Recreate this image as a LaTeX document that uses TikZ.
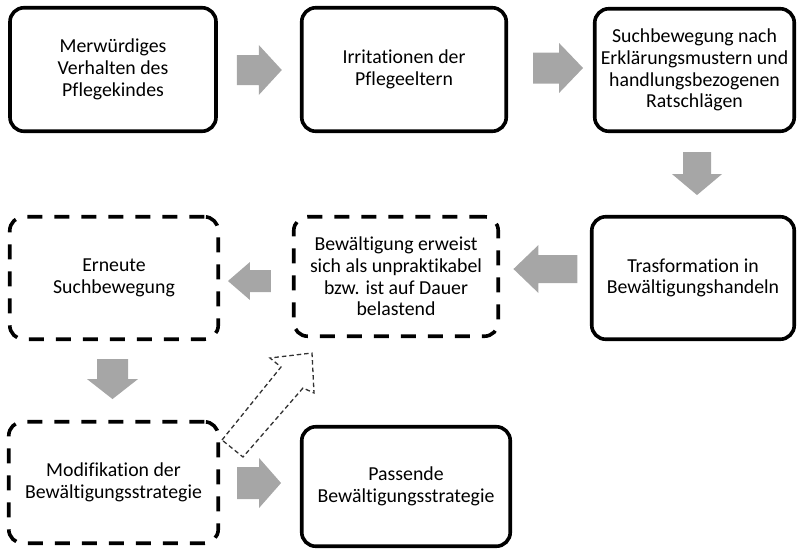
\documentclass[tikz,border=0pt]{standalone}
\usepackage{fontspec}
\setmainfont{Carlito}[Ligatures=NoCommon]
\usetikzlibrary{calc}
\definecolor{arrowgray}{RGB}{166,166,166}
\definecolor{hollowgray}{RGB}{50,50,50}
\begin{document}
\begin{tikzpicture}[x=1pt,y=-1pt,
  box/.style={draw=black, line width=3.6pt, rounded corners=14pt, align=center,
    inner sep=0pt, text=black, font=\fontsize{19.8}{21.7}\selectfont},
  solidbox/.style={box},
  dashbox/.style={box, dash pattern=on 15pt off 12pt},
  pics/barrow/.style n args={4}{code={
    \fill[arrowgray] (0,-#3) -- ({#1-#2},-#3) -- ({#1-#2},-#4) -- (#1,0)
      -- ({#1-#2},#4) -- ({#1-#2},#3) -- (0,#3) -- cycle;}},
  hollow/.style={draw=hollowgray, line width=1.3pt, dash pattern=on 4.5pt off 3pt, line join=miter}
]
\useasboundingbox (0,0) rectangle (798,550);

% row 1
\node[solidbox, minimum width=206pt, minimum height=123.5pt] (b1) at (113,69.5)
  {Merwürdiges\\Verhalten des\\Pflegekindes};
\node[solidbox, minimum width=204.5pt, minimum height=123.5pt] (b2) at (404,69.5)
  {Irritationen der\\Pflegeeltern};
\node[solidbox, minimum width=199.5pt, minimum height=122.5pt] (b3) at (694.5,70)
  {Suchbewegung nach\\Erklärungsmustern und\\handlungsbezogenen\\Ratschlägen};

% row 2
\node[dashbox, minimum width=208.5pt, minimum height=122.5pt] (e) at (114,278)
  {Erneute\\Suchbewegung};
\node[dashbox, minimum width=204.5pt, minimum height=119.5pt] (w) at (396,276.5)
  {Bewältigung erweist\\sich als unpraktikabel\\bzw. ist auf Dauer\\belastend};
\node[solidbox, minimum width=202.5pt, minimum height=122.5pt] (t) at (693,278)
  {Trasformation in\\Bewältigungshandeln};

% row 3
\node[dashbox, minimum width=209.5pt, minimum height=121.5pt] (m) at (113.5,482.5)
  {Modifikation der\\Bewältigungsstrategie};
\node[solidbox, minimum width=208.5pt, minimum height=119.5pt] (p) at (406,486.5)
  {Passende\\Bewältigungsstrategie};

% block arrows
\pic at ($(b1.east)+(19,0.5)$) {barrow={45}{23}{15}{25}};
\pic at ($(b2.east)+(25,-1.5)$) {barrow={50}{24}{15.5}{25}};
\pic[rotate=-90] at ($(b3.south)+(2.5,19)$) {barrow={43}{21}{14}{25}};
\pic[rotate=180] at ($(t.west)+(-12.5,-9)$) {barrow={64}{25}{14}{24}};
\pic[rotate=180] at ($(w.west)+(-21,4.5)$) {barrow={43}{22}{11}{19}};
\pic[rotate=-90] at ($(e.south)+(-1.5,18)$) {barrow={40}{20}{15.5}{25.5}};
\pic at ($(m.east)+(17,0.5)$) {barrow={44}{22}{16}{25}};

% hollow dashed arrow from m towards w
\coordinate (h1) at (222,440);
\coordinate (h2) at (281,367);
\coordinate (h3) at (270,358);
\coordinate (htip) at (312,353);
\coordinate (h5) at (314,393);
\coordinate (h6) at (303,388);
\coordinate (h7) at (243,457);
\draw[hollow] (h1) -- (h2) -- (h3) -- (htip) -- (h5) -- (h6) -- (h7) -- cycle;
\end{tikzpicture}
\end{document}
